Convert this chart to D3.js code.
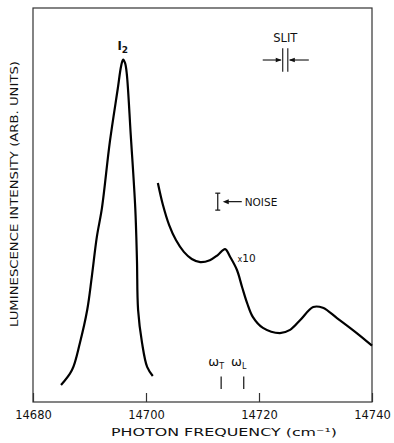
<!DOCTYPE html>
<html>
<head>
<meta charset="utf-8">
<script src="https://cdn.jsdelivr.net/npm/d3@7"></script>
<style>
  body { margin: 0; background: #fff; }
  text { font-family: "DejaVu Sans", sans-serif; fill: #111; }
</style>
</head>
<body>
<div class="container"></div>
<script>
// tick labels on the frequency axis
var xTicks = [14680, 14700, 14720, 14740];

// I2 line (full scale)
var i2Freq = [14684.96, 14686.9, 14688.3, 14689.6, 14690.4, 14691.3, 14692.2, 14693.6, 14695.0, 14695.6, 14695.95, 14696.3, 14696.6, 14697.3, 14698.1, 14698.4, 14698.6, 14699.3, 14700.2, 14701.2];
var i2Int  = [4.3, 8.1, 15.0, 23.4, 31.7, 41.9, 49.2, 66.0, 79.5, 85.3, 86.9, 86.0, 83.3, 67.8, 49.2, 36.0, 23.4, 15.0, 8.9, 6.6];

// x10 trace
var x10Freq = [14702.1, 14703.0, 14704.1, 14705.3, 14706.7, 14708.1, 14709.6, 14711.3, 14712.7, 14714.0, 14714.9, 14716.1, 14717.0, 14717.9, 14718.9, 14720.7, 14723.7, 14725.5, 14727.3, 14729.6, 14731.3, 14733.8, 14737.3, 14740.0];
var x10Int  = [55.6, 50.0, 44.9, 41.1, 38.1, 36.3, 35.5, 36.0, 37.3, 38.8, 36.8, 33.5, 29.2, 25.1, 21.6, 18.8, 17.5, 18.3, 20.8, 24.1, 23.9, 21.3, 17.5, 14.3];

// mode markers
var modeNames = ["T", "L"];
var modeFreq = [14713.3, 14717.3];

// noise bar and slit width
var noiseFreq = 14712.7, noiseRange = [48.7, 53.0];
var slitFreq = [14724.2, 14725.1], slitRange = [83.8, 89.8];

var WIDTH = 394, HEIGHT = 443;
var padLeft = 33, padRight = 372, padTop = 8, padBottom = 402;

var svg = d3.select('.container').append('svg')
    .attr('width', WIDTH)
    .attr('height', HEIGHT);

var xScale = d3.scaleLinear().domain([14680, 14740]).range([padLeft, padRight]);
var yScale = d3.scaleLinear().domain([0, 100]).range([padBottom, padTop]);

// frame
svg.append('rect')
    .attr('x', padLeft).attr('y', padTop)
    .attr('width', padRight - padLeft).attr('height', padBottom - padTop)
    .attr('fill', 'none').attr('stroke', '#333').attr('stroke-width', 1.2);

var xAxis = d3.axisBottom(xScale)
    .tickValues(xTicks)
    .tickFormat(d3.format('d'))
    .tickSizeInner(-9)
    .tickSizeOuter(0)
    .tickPadding(9);

var ax = svg.append('g')
    .attr('transform', 'translate(0,' + padBottom + ')')
    .call(xAxis);
ax.select('.domain').remove();
ax.selectAll('line').attr('stroke', '#333').attr('stroke-width', 1.2);
ax.selectAll('text')
    .attr('font-size', 11.5)
    .attr('fill', '#111')
    .style('font-family', '"DejaVu Sans", sans-serif');

// axis titles
svg.append('text')
    .attr('x', 224).attr('y', 436)
    .attr('text-anchor', 'middle')
    .attr('font-size', 11)
    .attr('textLength', 226).attr('lengthAdjust', 'spacingAndGlyphs')
    .text('PHOTON FREQUENCY (cm\u207B\u00B9)');

svg.append('text')
    .attr('transform', 'translate(18,' + 194 + ') rotate(-90)')
    .attr('text-anchor', 'middle')
    .attr('font-size', 10.5)
    .attr('textLength', 266).attr('lengthAdjust', 'spacingAndGlyphs')
    .text('LUMINESCENCE INTENSITY (ARB. UNITS)');

var line = d3.line()
    .curve(d3.curveCatmullRom.alpha(0.5))
    .x(function(d) { return xScale(d[0]); })
    .y(function(d) { return yScale(d[1]); });

svg.append('path')
    .datum(d3.zip(i2Freq, i2Int))
    .attr('d', line)
    .attr('fill', 'none').attr('stroke', '#000').attr('stroke-width', 2.2);

svg.append('path')
    .datum(d3.zip(x10Freq, x10Int))
    .attr('d', line)
    .attr('fill', 'none').attr('stroke', '#000').attr('stroke-width', 2.2);

// I2 label
var i2Label = svg.append('text')
    .attr('x', xScale(14695.9)).attr('y', yScale(89.4))
    .attr('text-anchor', 'middle')
    .attr('font-size', 11.5).attr('font-weight', 'bold');
i2Label.append('tspan').text('I');
i2Label.append('tspan').attr('font-size', 9).attr('dy', 3).text('2');

// x10 label
var xl = svg.append('text')
    .attr('x', xScale(14716.2)).attr('y', yScale(35.5))
    .attr('font-size', 10.5);
xl.append('tspan').attr('font-size', 8).text('x');
xl.append('tspan').text('10');

// noise bar
var nx = xScale(noiseFreq);
var ng = svg.append('g').attr('stroke', '#111').attr('stroke-width', 1.2);
ng.append('line').attr('x1', nx).attr('x2', nx).attr('y1', yScale(noiseRange[0])).attr('y2', yScale(noiseRange[1]));
noiseRange.forEach(function(v) {
    ng.append('line').attr('x1', nx - 2.5).attr('x2', nx + 2.5).attr('y1', yScale(v)).attr('y2', yScale(v));
});
var ny = yScale((noiseRange[0] + noiseRange[1]) / 2);
ng.append('line').attr('x1', nx + 9).attr('x2', nx + 24).attr('y1', ny).attr('y2', ny);
svg.append('path')
    .attr('d', 'M' + (nx + 5) + ',' + ny + 'l6,-2.5l0,5z')
    .attr('fill', '#111');
svg.append('text')
    .attr('x', nx + 27).attr('y', ny + 4)
    .attr('font-size', 10.5)
    .text('NOISE');

// slit symbol
var sx0 = xScale(slitFreq[0]), sx1 = xScale(slitFreq[1]);
var sy = yScale((slitRange[0] + slitRange[1]) / 2);
var sg = svg.append('g').attr('stroke', '#111').attr('stroke-width', 1.1);
slitFreq.forEach(function(f) {
    sg.append('line').attr('x1', xScale(f)).attr('x2', xScale(f))
        .attr('y1', yScale(slitRange[0])).attr('y2', yScale(slitRange[1]));
});
sg.append('line').attr('x1', sx0 - 20).attr('x2', sx0 - 2).attr('y1', sy).attr('y2', sy);
sg.append('line').attr('x1', sx1 + 2).attr('x2', sx1 + 21).attr('y1', sy).attr('y2', sy);
svg.append('path').attr('d', 'M' + (sx0 - 1) + ',' + sy + 'l-6,-2.2l0,4.4z').attr('fill', '#111');
svg.append('path').attr('d', 'M' + (sx1 + 1) + ',' + sy + 'l6,-2.2l0,4.4z').attr('fill', '#111');
svg.append('text')
    .attr('x', (sx0 + sx1) / 2).attr('y', yScale(slitRange[1]) - 6)
    .attr('text-anchor', 'middle')
    .attr('font-size', 11.5)
    .text('SLIT');

// mode markers
modeFreq.forEach(function(f, i) {
    var mx = xScale(f);
    svg.append('line')
        .attr('x1', mx).attr('x2', mx)
        .attr('y1', yScale(6.5)).attr('y2', yScale(3.3))
        .attr('stroke', '#111').attr('stroke-width', 1.2);
    var t = svg.append('text')
        .attr('x', mx - 5).attr('y', yScale(9.2))
        .attr('text-anchor', 'middle')
        .attr('font-size', 13);
    t.append('tspan').text('\u03C9');
    t.append('tspan').attr('font-size', 8).attr('dy', 3).text(modeNames[i]);
});
</script>
</body>
</html>
